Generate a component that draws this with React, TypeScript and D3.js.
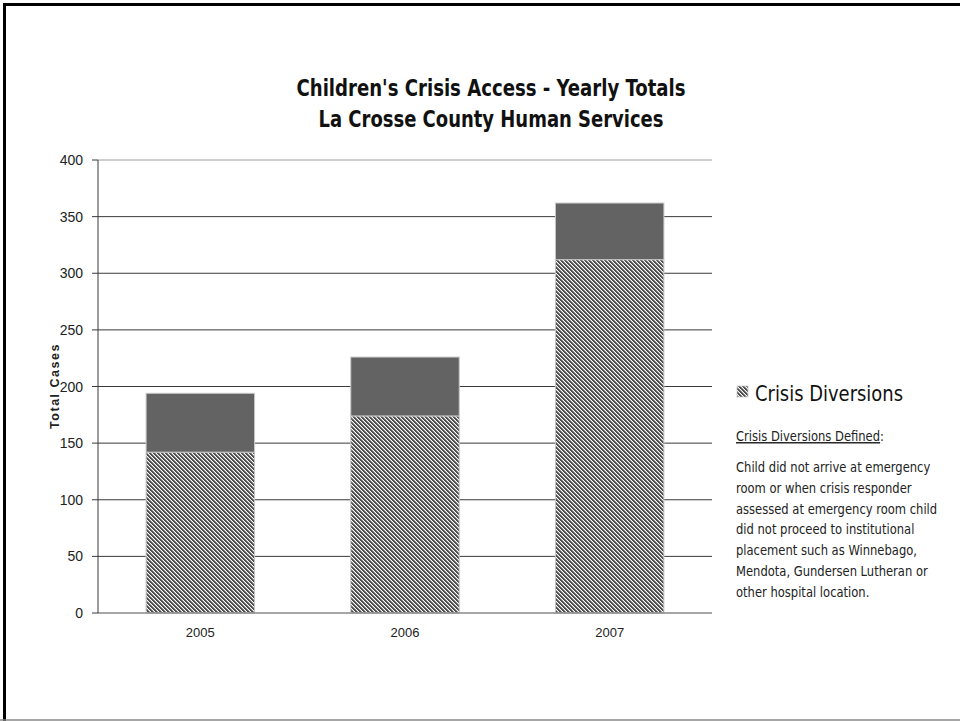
import React from "react";
import * as d3 from "d3";

const years = ["2005", "2006", "2007"];
const crisisDiversions = [142, 174, 312];
const otherCases = [52, 52, 50];
const yTicks = [0, 50, 100, 150, 200, 250, 300, 350, 400];
const titleLines = ["Children's Crisis Access - Yearly Totals", "La Crosse County Human Services"];
const legendLabel = "Crisis Diversions";
const definitionHeading = "Crisis Diversions Defined";
const definitionLines = [
  "Child did not arrive at emergency",
  "room or when crisis responder",
  "assessed at emergency room child",
  "did not proceed to institutional",
  "placement such as Winnebago,",
  "Mendota, Gundersen Lutheran or",
  "other hospital location.",
];

export default function App() {
  const W = 960, H = 721;
  const plot = { left: 98, right: 712, top: 160, bottom: 613 };
  const x = d3.scaleBand<string>().domain(years).range([plot.left, plot.right]).paddingInner(0.47).paddingOuter(0.235);
  const y = d3.scaleLinear().domain([0, 400]).range([plot.bottom, plot.top]);
  const font = "'DejaVu Sans Condensed', 'DejaVu Sans', sans-serif";
  const axisFont = "'Liberation Sans Narrow', 'Liberation Sans', Arial, sans-serif";
  const titleWidths = [389, 345];

  return (
    <svg width={W} height={H} style={{ position: "absolute", left: 0, top: 0, background: "#fff" }}>
      <defs>
        <pattern id="hatch" width="4" height="4" patternUnits="userSpaceOnUse">
          <rect width="4" height="4" fill="#ffffff" />
          {[0, 1, 2, 3].map((r) =>
            [0, 1].map((k) => (
              <rect key={`${r}-${k}`} x={(r + k) % 4} y={r} width={1} height={1} fill="#4f4f4f" shapeRendering="crispEdges" />
            ))
          )}
          {[0, 1, 2, 3].map((r) => (
            <rect key={`g${r}`} x={(r + 2) % 4} y={r} width={1} height={1} fill="#9a9a9a" shapeRendering="crispEdges" />
          ))}
        </pattern>
      </defs>
      <rect x={0} y={0} width={W} height={H} fill="#fff" />
      {/* frame */}
      <path d={`M4.5,${H} V4.5 H${W}`} fill="none" stroke="#000" strokeWidth={3} />
      <line x1={0} x2={W} y1={720} y2={720} stroke="#888" strokeWidth={1.5} />

      {/* title */}
      {titleLines.map((t, i) => (
        <text key={i} x={491} y={96 + i * 30.5} textAnchor="middle" fontFamily={font} fontWeight="bold" fontSize={23.5}
          textLength={titleWidths[i]} lengthAdjust="spacingAndGlyphs" fill="#111">
          {t}
        </text>
      ))}

      {/* gridlines */}
      {yTicks.map((t) => (
        <g key={t}>
          {t > 0 && (
            <line x1={plot.left} x2={plot.right} y1={y(t)} y2={y(t)} stroke={t === 400 ? "#a0a0a0" : "#3a3a3a"} strokeWidth={1} />
          )}
          <line x1={plot.left - 6} x2={plot.left} y1={y(t)} y2={y(t)} stroke="#3a3a3a" />
          <text x={plot.left - 15} y={y(t) + 5} textAnchor="end" fontFamily={axisFont} fontSize={14} fill="#222">
            {t}
          </text>
        </g>
      ))}

      {/* bars */}
      {years.map((yr, i) => {
        const bx = x(yr)!;
        const bw = x.bandwidth();
        const y0 = y(0);
        const y1 = y(crisisDiversions[i]);
        const y2 = y(crisisDiversions[i] + otherCases[i]);
        return (
          <g key={yr}>
            <rect x={bx} y={y1} width={bw} height={y0 - y1} fill="url(#hatch)" stroke="#c8c8c8" strokeWidth={1} />
            <rect x={bx} y={y2} width={bw} height={y1 - y2} fill="#636363" stroke="#c8c8c8" strokeWidth={1} />
            <text x={bx + bw / 2} y={637} textAnchor="middle" fontFamily={axisFont} fontSize={13} fill="#222">
              {yr}
            </text>
          </g>
        );
      })}

      {/* axes */}
      <line x1={plot.left} x2={plot.right} y1={plot.bottom} y2={plot.bottom} stroke="#888" strokeWidth={1.5} />
      <line x1={plot.left} x2={plot.left} y1={plot.top} y2={plot.bottom} stroke="#3a3a3a" strokeWidth={1} />

      {/* y axis title */}
      <text transform={`translate(59,386) rotate(-90)`} textAnchor="middle" fontFamily={axisFont} fontWeight="bold" fontSize={12.5} letterSpacing={1.5} fill="#222">
        Total Cases
      </text>

      {/* legend */}
      <rect x={737} y={386} width={11} height={11} fill="url(#hatch)" stroke="#c8c8c8" strokeWidth={0.8} />
      <text x={755} y={401} fontFamily={font} fontSize={22} textLength={148} lengthAdjust="spacingAndGlyphs" fill="#111">{legendLabel}</text>
      <g transform="translate(736,0) scale(0.886,1)">
        <text x={0} y={441} fontFamily={font} fontSize={14.5} fill="#222">
          <tspan textDecoration="underline">{definitionHeading}</tspan>:
        </text>
        {definitionLines.map((l, i) => (
          <text key={i} x={0} y={472 + i * 20.8} fontFamily={font} fontSize={14.5} fill="#222">
            {l}
          </text>
        ))}
      </g>
    </svg>
  );
}
